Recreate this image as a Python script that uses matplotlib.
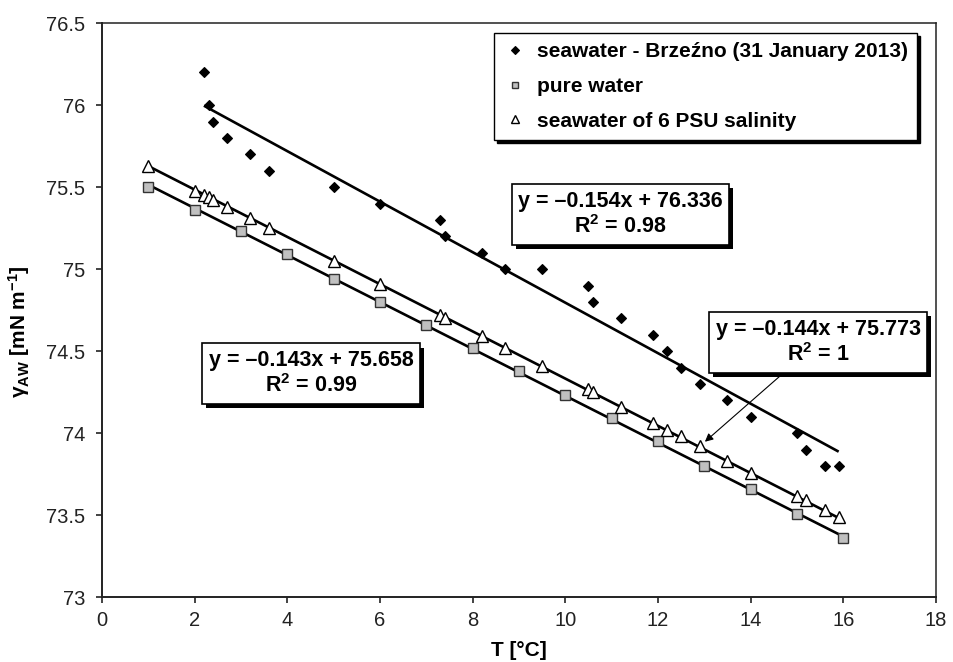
import matplotlib
matplotlib.use("Agg")
import matplotlib.pyplot as plt
import matplotlib.patheffects as pe
import numpy as np

plt.rcParams['font.family'] = ['Liberation Sans', 'DejaVu Sans']
plt.rcParams['mathtext.fontset'] = 'custom'
plt.rcParams['mathtext.rm'] = 'Liberation Sans'
plt.rcParams['mathtext.bf'] = 'Liberation Sans:bold'
plt.rcParams['mathtext.it'] = 'Liberation Sans:italic'

# ---------------- data ----------------
sea_T = [2.2, 2.3, 2.4, 2.7, 3.2, 3.6, 5.0, 6.0, 7.3, 7.4, 8.2, 8.7, 9.5, 10.5, 10.6,
         11.2, 11.9, 12.2, 12.5, 12.9, 13.5, 14.0, 15.0, 15.2, 15.6, 15.9]
sea_g = [76.2, 76.0, 75.9, 75.8, 75.7, 75.6, 75.5, 75.4, 75.3, 75.2, 75.1, 75.0, 75.0, 74.9, 74.8,
         74.7, 74.6, 74.5, 74.4, 74.3, 74.2, 74.1, 74.0, 73.9, 73.8, 73.8]

pure_T = [1, 2, 3, 4, 5, 6, 7, 8, 9, 10, 11, 12, 13, 14, 15, 16]
pure_g = [75.50, 75.36, 75.23, 75.09, 74.94, 74.80, 74.66, 74.52, 74.38, 74.23, 74.09, 73.95,
          73.80, 73.66, 73.51, 73.36]

psu_T = [1.0, 2.0, 2.2, 2.3, 2.4, 2.7, 3.2, 3.6, 5.0, 6.0, 7.3, 7.4, 8.2, 8.7, 9.5, 10.5, 10.6,
         11.2, 11.9, 12.2, 12.5, 12.9, 13.5, 14.0, 15.0, 15.2, 15.6, 15.9]
psu_g = [75.63, 75.48, 75.45, 75.44, 75.42, 75.38, 75.31, 75.25, 75.05, 74.91, 74.72, 74.70, 74.59,
         74.52, 74.41, 74.27, 74.25, 74.16, 74.06, 74.02, 73.98, 73.92, 73.83, 73.76, 73.62, 73.59,
         73.53, 73.49]

# linear fits (slope, intercept, R2) as printed on the chart
sea_fit = (-0.154, 76.336, "0.98")
pure_fit = (-0.143, 75.658, "0.99")
psu_fit = (-0.144, 75.773, "1")

labels = ["seawater - Brzeźno (31 January 2013)", "pure water", "seawater of 6 PSU salinity"]
xticks = [0, 2, 4, 6, 8, 10, 12, 14, 16, 18]
yticks = [73, 73.5, 74, 74.5, 75, 75.5, 76, 76.5]
ytick_labels = ["73", "73.5", "74", "74.5", "75", "75.5", "76", "76.5"]

# ---------------- figure ----------------
fig = plt.figure(figsize=(9.54, 6.62), dpi=100)
ax = fig.add_axes([0.1069, 0.0979, 0.8742, 0.867])

def fit_line(T, fit):
    xs = np.array([min(T), max(T)])
    return xs, fit[0] * xs + fit[1]

for T, fit in ((sea_T, sea_fit), (pure_T, pure_fit), (psu_T, psu_fit)):
    xs, ys = fit_line(T, fit)
    ax.plot(xs, ys, color='black', lw=1.9, zorder=2, solid_capstyle='butt')

h1, = ax.plot(sea_T, sea_g, 'D', ms=5.3, mfc='black', mec='black', mew=0.8, ls='none', zorder=3)
h2, = ax.plot(pure_T, pure_g, 's', ms=7, mfc='#c0c0c0', mec='#333333', mew=1.0, ls='none', zorder=3)
h3, = ax.plot(psu_T, psu_g, '^', ms=8, mfc='white', mec='black', mew=1.0, ls='none', zorder=4)

ax.set_xlim(0, 18)
ax.set_ylim(73, 76.5)
ax.set_xticks(xticks)
ax.set_xticklabels([str(t) for t in xticks])
ax.set_yticks(yticks)
ax.set_yticklabels(ytick_labels)

for s in ('left', 'bottom'):
    ax.spines[s].set_linewidth(1.4)
    ax.spines[s].set_color('#222222')
for s in ('top', 'right'):
    ax.spines[s].set_linewidth(1.1)
    ax.spines[s].set_color('#222222')

ax.tick_params(axis='both', direction='out', length=4, width=1.2, color='#222222',
               labelsize=14.5, labelcolor='#222222')
ax.tick_params(axis='y', pad=8)
ax.tick_params(axis='x', pad=6)

ax.set_xlabel("T [°C]", fontsize=15, fontweight='bold', labelpad=8)
ax.set_ylabel(r"γ$_{\mathbf{AW}}$ [mN m$^{\mathbf{-1}}$]", fontsize=15, fontweight='bold')
ax.yaxis.set_label_coords(-0.084, 0.463)

# legend
leg = ax.legend([h1, h2, h3], labels, loc='upper right',
                bbox_to_anchor=(917 / 954, 1 - 33 / 662), bbox_transform=fig.transFigure,
                borderaxespad=0, frameon=True, fancybox=False, edgecolor='black',
                shadow={'color': 'black', 'alpha': 1.0}, framealpha=1,
                prop={'weight': 'bold', 'size': 15}, markerscale=0.7,
                handletextpad=0.5, labelspacing=0.75, borderpad=0.45, handlelength=1.1)
leg.get_frame().set_linewidth(1.0)

shadow = [pe.SimplePatchShadow(offset=(3, -3), shadow_rgbFace='black', alpha=1.0), pe.Normal()]
bbox_kw = dict(boxstyle='square,pad=0.3', fc='white', ec='black', lw=1.2)

def eq_text(fit):
    return "y = \u2013%.3fx + %.3f\nR$^{\\mathbf{2}}$ = %s" % (-fit[0], fit[1], fit[2])

txt_kw = dict(ha='center', va='center', multialignment='center', fontsize=15.5,
              fontweight='bold', bbox=bbox_kw, zorder=6, linespacing=1.2)
t1 = ax.text(11.19, 75.334, eq_text(sea_fit), **txt_kw)
t2 = ax.text(4.51, 74.363, eq_text(pure_fit), **txt_kw)
t3 = ax.annotate(eq_text(psu_fit), xy=(psu_T[21], psu_g[21]), xytext=(15.46, 74.553),
                 textcoords='data',
                 arrowprops=dict(arrowstyle='-|>', color='black', lw=0.8, mutation_scale=12,
                                 shrinkA=0, shrinkB=5), **txt_kw)
fig.canvas.draw()
for t in (t1, t2, t3):
    t.get_bbox_patch().set_path_effects(shadow)

fig.savefig("out.png", dpi=100)
